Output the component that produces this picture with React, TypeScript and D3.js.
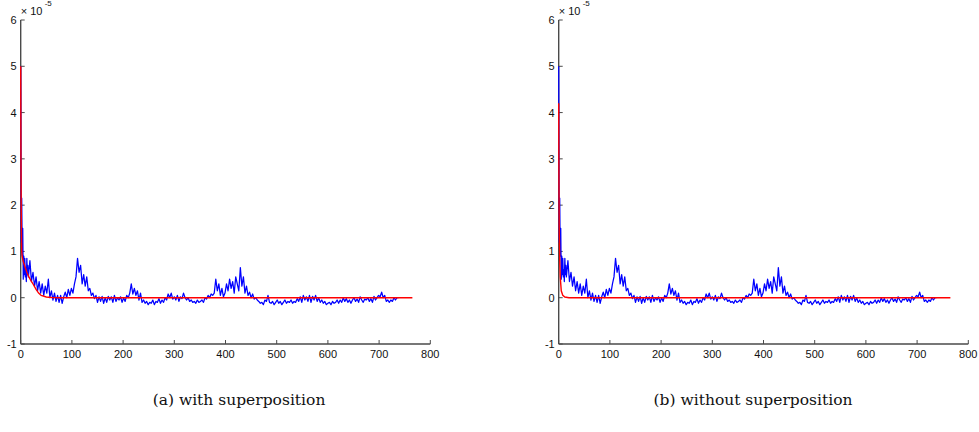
import React from "react";
import * as d3 from "d3";

const W = 979;
const H = 432;

// x ticks / y ticks
const xTicks = [0, 100, 200, 300, 400, 500, 600, 700, 800];
const yTicks = [-1, 0, 1, 2, 3, 4, 5, 6];

// Blue measured series (units of 1e-5), head sampled every 1, tail every 3 from x=15
const blueHead = [5.0, 1.2, 2.15, 0.9, 1.5, 0.4, 0.9, 0.5, 0.85, 0.45, 0.6, 0.35, 0.85, 0.5, 0.7];
const blueTailStart = 15;
const blueTailStep = 3;
const blueTail = [
  0.45, 0.8, 0.35, 0.55, 0.25, 0.45, 0.15, 0.35, 0.1, 0.3,
  0.05, 0.25, 0.1, 0.4, 0.0, 0.15, -0.05, 0.1, -0.08, 0.05,
  -0.1, 0.05, -0.12, 0.02, 0.12, 0.0, 0.18, 0.05, 0.2, 0.1,
  0.3, 0.45, 0.85, 0.55, 0.7, 0.3, 0.5, 0.25, 0.45, 0.15,
  0.2, 0.05, 0.1, -0.02, 0.05, -0.1, 0.02, -0.08, 0.03, -0.12,
  0.0, -0.1, 0.03, -0.05, 0.02, -0.1, 0.05, -0.08, 0.0, -0.05,
  0.02, -0.1, 0.0, -0.08, 0.05, 0.0, 0.1, 0.3, 0.08, 0.2,
  0.05, 0.15, -0.05, 0.1, -0.1, -0.05, -0.12, -0.08, -0.15, -0.1,
  -0.12, -0.05, -0.15, -0.08, -0.1, -0.02, -0.12, -0.05, -0.1, 0.0,
  -0.05, 0.08, 0.0, 0.1, -0.03, 0.02, -0.05, 0.05, -0.08, 0.02,
  -0.02, 0.1, 0.0, -0.05, 0.0, -0.08, -0.05, -0.1, -0.08, -0.12,
  -0.05, -0.1, -0.08, -0.05, -0.1, 0.0, -0.03, 0.05, 0.0, 0.08,
  0.05, 0.1, 0.4, 0.15, 0.3, 0.05, 0.2, 0.02, 0.1, 0.3,
  0.15, 0.4, 0.2, 0.35, 0.1, 0.45, 0.3, 0.15, 0.65, 0.25,
  0.45, 0.1, 0.25, 0.05, 0.12, 0.0, 0.08, -0.03, 0.0, -0.05,
  -0.08, -0.12, -0.1, -0.15, -0.05, -0.08, 0.05, -0.1, -0.12, -0.08,
  -0.15, -0.1, -0.05, -0.12, -0.08, -0.15, -0.1, -0.05, -0.12, -0.08,
  -0.1, -0.05, -0.12, -0.08, -0.1, -0.02, -0.08, 0.02, -0.1, 0.05,
  -0.05, 0.02, -0.08, 0.05, -0.1, 0.03, -0.05, 0.05, -0.08, 0.0,
  -0.1, -0.05, -0.12, -0.08, -0.15, -0.12, -0.1, -0.15, -0.08, -0.12,
  -0.1, -0.05, -0.12, -0.05, -0.1, 0.0, -0.08, -0.02, -0.1, -0.05,
  -0.12, -0.05, 0.0, -0.08, -0.03, -0.1, 0.02, -0.05, -0.1, -0.03,
  -0.05, 0.0, -0.08, -0.02, -0.1, 0.03, -0.05, 0.0, 0.05, 0.02,
  0.12, 0.0, 0.05, -0.08, -0.05, -0.1, -0.05, -0.08, 0.0, -0.05,
  0.0, 0.0,
];

// Red fitted curves
const redLeftX = [0, 0.5, 1, 1.5, 2, 3, 5, 8, 12, 16, 20, 25, 30, 35, 40, 50, 60, 80, 765];
const redLeftY = [5.0, 3.0, 2.0, 1.4, 1.0, 0.88, 0.78, 0.68, 0.55, 0.45, 0.37, 0.28, 0.18, 0.1, 0.05, 0.015, 0.005, 0, 0];
const redRightX = [0, 0.5, 1, 2, 3, 5, 8, 12, 20, 765];
const redRightY = [4.2, 2.5, 1.5, 0.8, 0.45, 0.15, 0.05, 0.015, 0, 0];

const captions = ["(a) with superposition", "(b) without superposition"];

type Pt = [number, number];

const bluePts: Pt[] = [
  ...blueHead.map((v, i) => [i, v] as Pt),
  ...blueTail.map((v, i) => [blueTailStart + i * blueTailStep, v] as Pt),
];

function Panel({ x0, red, caption, capX }: { x0: number; red: Pt[]; caption: string; capX: number }) {
  const x = d3.scaleLinear().domain([0, 800]).range([x0, x0 + 409.6]);
  const y = d3.scaleLinear().domain([-1, 6]).range([344, 20]);
  const line = d3
    .line<Pt>()
    .x((d) => x(d[0]))
    .y((d) => y(d[1]));
  const axisColor = "#4a4a4a";
  const tickFont = "Liberation Sans, Arial, sans-serif";
  return (
    <g>
      {/* axes */}
      <line x1={x(0)} x2={x(800)} y1={y(-1)} y2={y(-1)} stroke={axisColor} strokeWidth={1.4} />
      <line x1={x(0)} x2={x(0)} y1={y(-1)} y2={y(6)} stroke={axisColor} strokeWidth={1.4} />
      {xTicks.map((t) => (
        <g key={"x" + t}>
          <line x1={x(t)} x2={x(t)} y1={y(-1)} y2={y(-1) - 4} stroke={axisColor} />
          <text x={x(t)} y={358} textAnchor="middle" fontFamily={tickFont} fontSize={11} fill="#111">
            {t}
          </text>
        </g>
      ))}
      {yTicks.map((t) => (
        <g key={"y" + t}>
          <line x1={x(0)} x2={x(0) + 4} y1={y(t)} y2={y(t)} stroke={axisColor} />
          <text x={x(0) - 4} y={y(t) + 4} textAnchor="end" fontFamily={tickFont} fontSize={11} fill="#111">
            {t}
          </text>
        </g>
      ))}
      <text x={x(0)} y={15} fontFamily={tickFont} fontSize={11} fill="#111">
        × 10
      </text>
      <text x={x(0) + 24} y={6} fontFamily={tickFont} fontSize={8} fill="#111">
        -5
      </text>
      {/* data */}
      <path d={line(bluePts) || ""} fill="none" stroke="#0000ff" strokeWidth={1.25} strokeLinejoin="round" />
      <path d={line(red) || ""} fill="none" stroke="#ff0000" strokeWidth={1.4} />
      <text x={capX} y={405} textAnchor="middle" fontFamily="DejaVu Serif, Liberation Serif, serif" fontSize={15.5} fill="#111">
        {caption}
      </text>
    </g>
  );
}

export default function App() {
  const redLeft: Pt[] = redLeftX.map((v, i) => [v, redLeftY[i]]);
  const redRight: Pt[] = redRightX.map((v, i) => [v, redRightY[i]]);
  return (
    <svg width={W} height={H} style={{ position: "absolute", left: 0, top: 0, background: "#fff" }}>
      <rect width={W} height={H} fill="#fff" />
      <Panel x0={20.7} red={redLeft} caption={captions[0]} capX={239} />
      <Panel x0={558.7} red={redRight} caption={captions[1]} capX={753} />
    </svg>
  );
}
